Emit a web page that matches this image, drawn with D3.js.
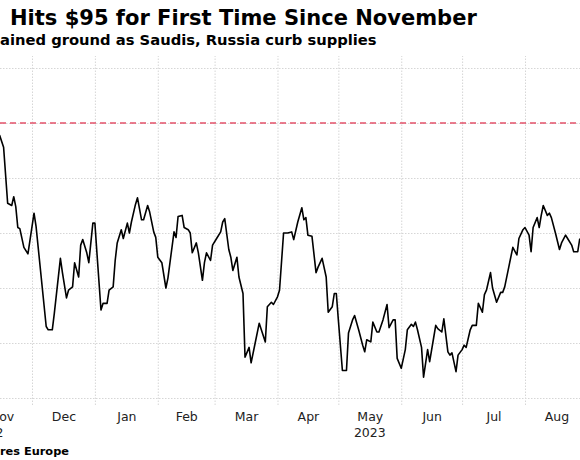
<!DOCTYPE html>
<html><head><meta charset="utf-8">
<script src="https://cdn.jsdelivr.net/npm/d3@7"></script>
<style>body{margin:0;background:#fff}svg{display:block}</style>
</head><body><svg id="c" width="580" height="460"></svg>
<script>
const titleText = "Hits $95 for First Time Since November";
const subtitleText = "ained ground as Saudis, Russia curb supplies";
const sourceText = "res Europe";
const monthLabels = ["Nov","Dec","Jan","Feb","Mar","Apr","May","Jun","Jul","Aug"];
const yearLabels = ["2022","2023"];
const gridValues = [70,75,80,85,90,95,100];
const thresholdValue = 95;

const dates = [
"2022-11-15","2022-11-17","2022-11-19","2022-11-21","2022-11-22","2022-11-23","2022-11-24","2022-11-25","2022-11-27","2022-11-28","2022-11-29",
"2022-12-02","2022-12-03","2022-12-08","2022-12-09","2022-12-11","2022-12-12","2022-12-15","2022-12-16","2022-12-18","2022-12-19","2022-12-21","2022-12-22","2022-12-24","2022-12-25","2022-12-26","2022-12-28","2022-12-29","2022-12-31",
"2023-01-01","2023-01-02","2023-01-04","2023-01-05","2023-01-07","2023-01-08","2023-01-10","2023-01-11","2023-01-12","2023-01-14","2023-01-15","2023-01-17","2023-01-18","2023-01-19","2023-01-21","2023-01-22","2023-01-24","2023-01-25","2023-01-27","2023-01-28","2023-01-30","2023-01-31",
"2023-02-01","2023-02-03","2023-02-05","2023-02-06","2023-02-08","2023-02-09","2023-02-10","2023-02-11","2023-02-13","2023-02-14","2023-02-16","2023-02-17","2023-02-18","2023-02-20","2023-02-21","2023-02-23","2023-02-24","2023-02-25","2023-02-27","2023-02-28",
"2023-03-02","2023-03-04","2023-03-05","2023-03-06","2023-03-08","2023-03-09","2023-03-10","2023-03-12","2023-03-13","2023-03-15","2023-03-16","2023-03-18","2023-03-19","2023-03-21","2023-03-23","2023-03-26","2023-03-27","2023-03-29","2023-03-30",
"2023-04-01","2023-04-02","2023-04-04","2023-04-06","2023-04-08","2023-04-09","2023-04-11","2023-04-13","2023-04-14","2023-04-15","2023-04-16","2023-04-18","2023-04-20","2023-04-21","2023-04-23","2023-04-25","2023-04-26","2023-04-28","2023-04-29","2023-04-30",
"2023-05-01","2023-05-03","2023-05-05","2023-05-06","2023-05-08","2023-05-09","2023-05-11","2023-05-13","2023-05-14","2023-05-15","2023-05-17","2023-05-18","2023-05-20","2023-05-21","2023-05-23","2023-05-25","2023-05-26","2023-05-28","2023-05-29","2023-05-30",
"2023-06-01","2023-06-03","2023-06-04","2023-06-06","2023-06-07","2023-06-08","2023-06-09","2023-06-11","2023-06-12","2023-06-14","2023-06-15","2023-06-17","2023-06-18","2023-06-19","2023-06-21","2023-06-22","2023-06-24","2023-06-25","2023-06-26","2023-06-28","2023-06-29",
"2023-07-01","2023-07-02","2023-07-03","2023-07-05","2023-07-06","2023-07-08","2023-07-09","2023-07-11","2023-07-12","2023-07-13","2023-07-15","2023-07-16","2023-07-18","2023-07-20","2023-07-21","2023-07-22","2023-07-24","2023-07-26","2023-07-28","2023-07-29","2023-07-31",
"2023-08-01","2023-08-03","2023-08-04","2023-08-05","2023-08-07","2023-08-08","2023-08-09","2023-08-10","2023-08-12","2023-08-13","2023-08-14","2023-08-16","2023-08-18","2023-08-19","2023-08-21","2023-08-22","2023-08-24","2023-08-25","2023-08-27","2023-08-28"
];
const prices = [
93.9,92.8,87.7,87.5,88.3,87.4,85.5,85.4,83.7,83.4,83.1,
86.8,85.6,76.5,76.2,76.2,77.7,82.7,81.4,79.1,79.8,80.1,82.3,81.0,83.9,84.4,83.2,82.3,85.9,
85.9,83.2,78.0,78.6,78.6,79.8,80.1,82.5,84.1,85.3,84.5,85.9,85.0,86.0,87.6,88.2,86.2,86.2,87.5,86.9,85.1,84.6,
82.8,82.3,80.0,80.9,83.7,85.1,84.6,86.5,86.6,85.5,85.3,85.0,83.2,84.1,83.2,80.7,82.3,83.2,82.5,83.9,
84.5,85.1,86.0,86.3,83.5,82.8,81.6,82.8,81.0,79.5,73.7,74.6,73.2,75.0,76.8,75.1,78.3,78.7,78.5,
79.2,79.8,85.0,85.0,85.1,84.4,86.0,87.3,86.2,86.4,84.8,84.7,81.4,81.9,82.7,81.0,77.8,78.3,79.5,79.5,
77.1,72.5,72.5,75.9,77.1,77.5,76.2,74.8,74.2,75.3,75.1,76.9,76.0,76.0,77.1,78.5,76.4,77.1,77.1,73.6,
72.7,74.4,76.2,76.7,76.5,76.9,76.2,74.6,71.9,74.4,73.3,75.5,76.6,76.3,76.0,77.2,74.2,73.9,74.1,72.4,73.9,
74.4,74.8,74.6,76.2,76.6,76.6,78.6,77.8,79.4,79.8,81.4,80.0,78.7,79.6,79.6,80.1,81.9,83.7,83.0,84.5,85.3,
85.5,84.8,83.3,85.5,86.4,85.5,86.6,87.5,86.6,86.8,86.4,85.0,83.5,84.1,84.8,84.5,83.9,83.3,83.3,84.5
];

const parse = d3.timeParse("%Y-%m-%d");
const data = dates.map((d, i) => ({date: parse(d), v: prices[i]}));

const svg = d3.select("#c");
svg.append("rect").attr("width", 580).attr("height", 460).attr("fill", "#fff");

const x = d3.scaleTime().domain([new Date(2022, 11, 1), new Date(2023, 7, 1)]).range([32, 525]);
const y = d3.scaleLinear().domain([70, 100]).range([398, 68]);

const gridColor = "#d6d6d6";

// horizontal grid
const hAxis = d3.axisLeft(y).tickValues(gridValues).tickSize(-580).tickFormat("");
const hg = svg.append("g").call(hAxis);
hg.select(".domain").remove();
hg.selectAll(".tick line").attr("stroke", gridColor).attr("stroke-dasharray", "1.5,1.5");

// vertical month grid
const months = d3.timeMonth.range(new Date(2022, 10, 1), new Date(2023, 8, 1));
const vAxis = d3.axisBottom(x).tickValues(months).tickSize(-(405 - 56)).tickFormat("");
const vg = svg.append("g").attr("transform", "translate(0,405)").call(vAxis);
vg.select(".domain").remove();
vg.selectAll(".tick line").attr("stroke", gridColor).attr("stroke-dasharray", "1.5,1.5");

// month labels at mid-month
const mids = months.map(m => new Date((+m + +d3.timeMonth.offset(m, 1)) / 2));
const lAxis = d3.axisBottom(x).tickValues(mids).tickSize(0).tickFormat((d, i) => monthLabels[i]);
const lg = svg.append("g").attr("transform", "translate(0,405)").call(lAxis);
lg.select(".domain").remove();
lg.selectAll(".tick text")
  .attr("y", 16).attr("dy", 0)
  .attr("font-family", "DejaVu Sans").attr("font-size", 12.5).attr("fill", "#222");

// year labels
const yearG = svg.append("g").attr("font-family", "DejaVu Sans").attr("font-size", 12.5).attr("fill", "#222");
yearG.append("text").attr("x", x(mids[0]) + 2).attr("y", 437).attr("text-anchor", "end").text(yearLabels[0]);
yearG.append("text").attr("x", x(mids[6])).attr("y", 437).attr("text-anchor", "middle").text(yearLabels[1]);

// threshold line
svg.append("line")
  .attr("x1", 0).attr("x2", 580)
  .attr("y1", y(thresholdValue)).attr("y2", y(thresholdValue))
  .attr("stroke", "#e4536b").attr("stroke-width", 1.5).attr("stroke-dasharray", "6,4");

// price line
svg.append("path").datum(data)
  .attr("fill", "none").attr("stroke", "#000").attr("stroke-width", 1.6)
  .attr("stroke-linejoin", "round")
  .attr("d", d3.line().x(d => x(d.date)).y(d => y(d.v)));

function fit(sel, w) {
  const cur = sel.node().getComputedTextLength();
  const fs = parseFloat(sel.attr("font-size"));
  sel.attr("font-size", fs * w / cur);
}
const t = svg.append("text").attr("x", 10).attr("y", 25)
  .attr("font-family", "DejaVu Sans").attr("font-weight", "bold").attr("font-size", 21).attr("fill", "#000").text(titleText);
fit(t, 467);
const st = svg.append("text").attr("x", 0).attr("y", 45)
  .attr("font-family", "DejaVu Sans").attr("font-weight", "bold").attr("font-size", 15).attr("fill", "#000").text(subtitleText);
fit(st, 377);
const so = svg.append("text").attr("x", 0).attr("y", 455)
  .attr("font-family", "DejaVu Sans").attr("font-weight", "bold").attr("font-size", 12).attr("fill", "#000").text(sourceText);
fit(so, 69);
</script>
</body></html>
